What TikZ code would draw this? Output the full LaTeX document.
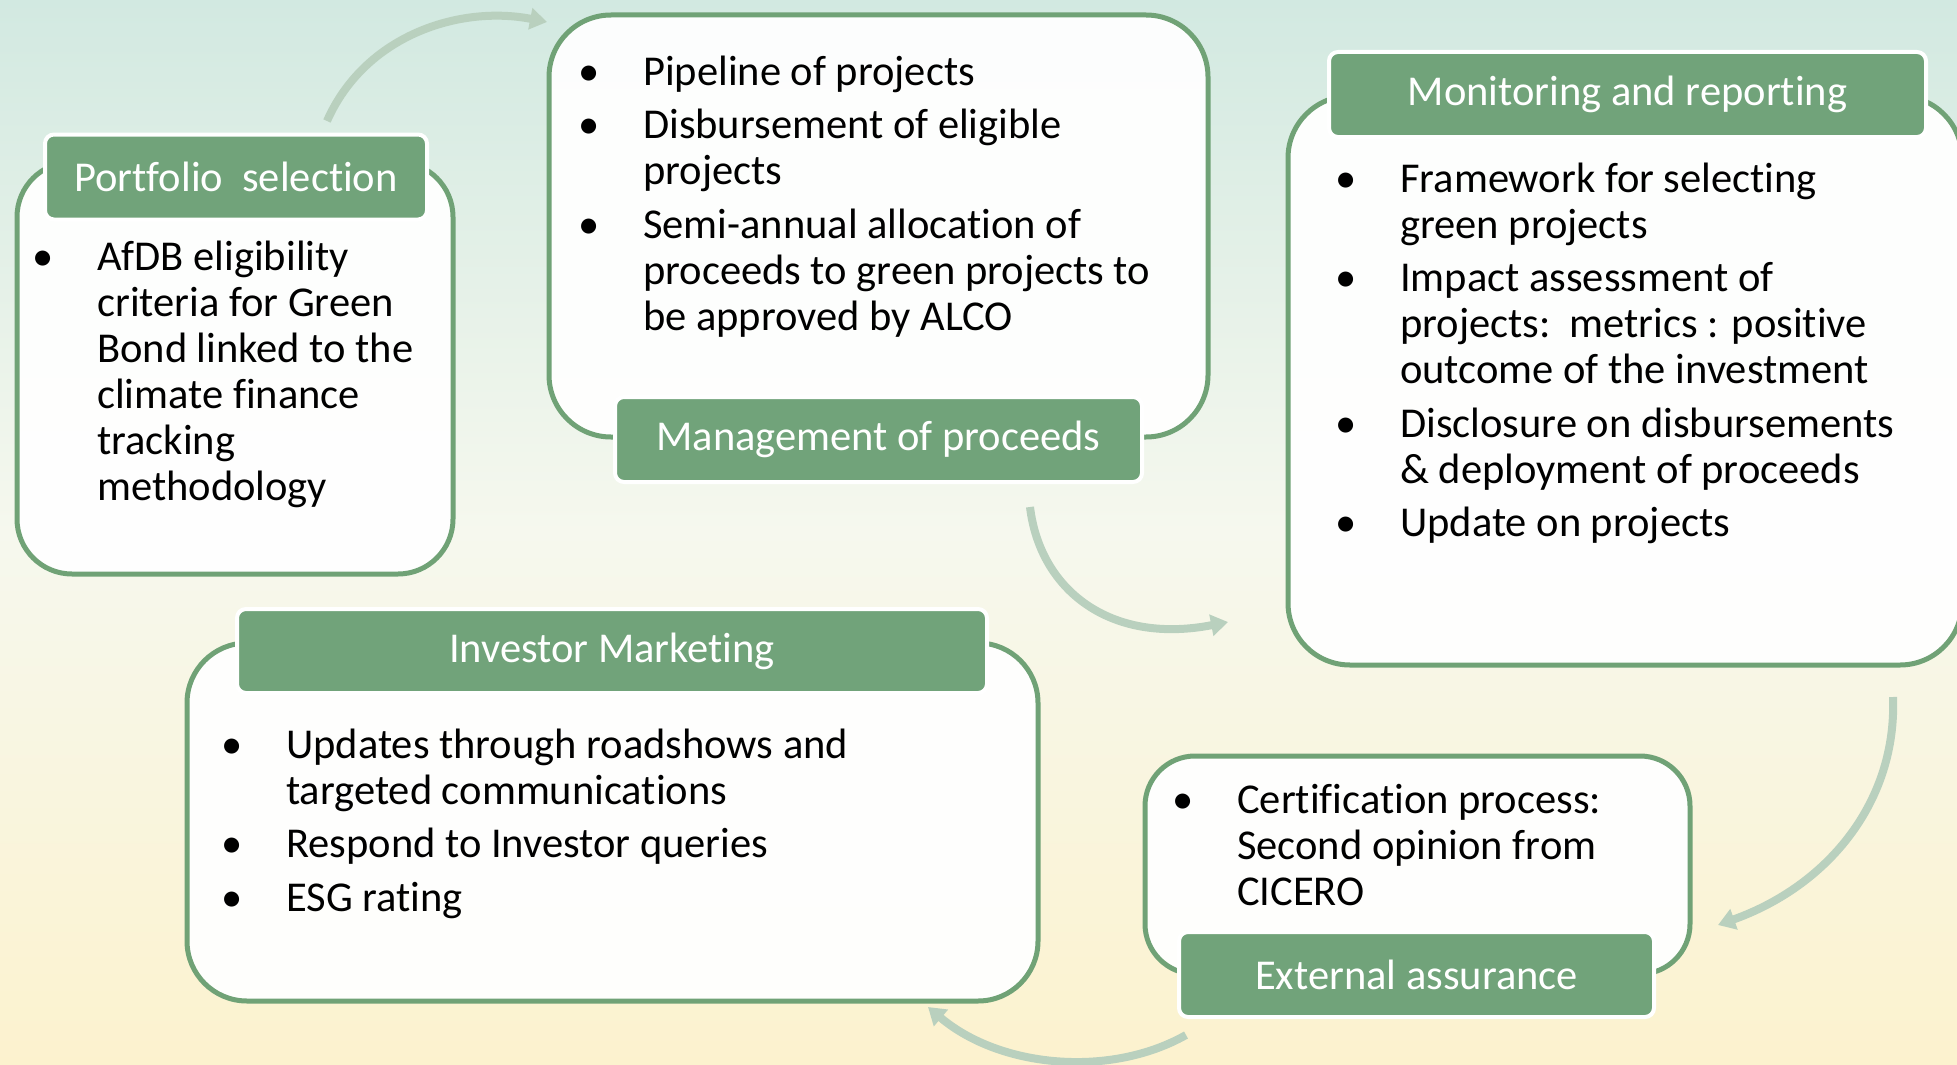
\documentclass[tikz,border=0pt]{standalone}
\usepackage{fontspec}
\setmainfont[Ligatures=CommonOff]{Carlito}
\usetikzlibrary{arrows.meta}
\definecolor{hdr}{RGB}{113,163,122}
\definecolor{edgec}{RGB}{112,162,118}
\definecolor{arrc}{RGB}{185,208,190}
\definecolor{bgtop}{RGB}{210,233,225}
\definecolor{bgmid}{RGB}{246,248,238}
\definecolor{bgbot}{RGB}{252,242,206}
\newlength{\bindent}\setlength{\bindent}{63pt}
\newcommand{\nl}{\hfil\break}
\newcommand{\bitem}[1]{\hangindent=\bindent\hangafter=1\noindent\makebox[\bindent][l]{\hspace{-2pt}\textbullet}#1\par}
\newcommand{\blist}[1]{\parbox[t]{800pt}{\fontsize{42.5}{46}\selectfont\setlength{\parskip}{7.5pt}\setlength{\parfillskip}{0pt plus 1fil}#1}}
\tikzset{
  outbox/.style={draw=edgec, line width=5pt, fill=white, fill opacity=0.95, draw opacity=1, text opacity=1, rounded corners=#1, inner sep=0pt},
  outbox/.default=55pt,
  hdrbox/.style={fill=hdr, draw=white, line width=4pt, rounded corners=9pt, text=white, font=\fontsize{42.5}{46}\selectfont, inner sep=0pt},
  listtext/.style={anchor=base west, inner sep=0pt, text=black},
  flow/.style={draw=arrc, line width=8pt, -{Triangle[width=21pt,length=17pt]}}
}
\begin{document}
\begin{tikzpicture}[x=1pt,y=-1pt]
\useasboundingbox (0,0) rectangle (1957,1065);
\clip (0,0) rectangle (1957,1065);
\shade[top color=bgtop, bottom color=bgbot, middle color=bgmid] (0,0) rectangle (1957,1065);
% arrow end points
\coordinate (a1s) at (327,121); \coordinate (a1e) at (547,22);
\coordinate (a2s) at (1030,507); \coordinate (a2e) at (1228,622);
\coordinate (a3s) at (1893,697); \coordinate (a3e) at (1718,925);
\coordinate (a4s) at (1186,1035); \coordinate (a4e) at (928,1007);
\draw[flow] (a1s) .. controls (365,35) and (460,5) .. (a1e);
\draw[flow] (a2s) .. controls (1040,590) and (1110,645) .. (a2e);
\draw[flow] (a3s) .. controls (1897,800) and (1830,885) .. (a3e);
\draw[flow] (a4s) .. controls (1110,1078) and (1000,1068) .. (a4e);
% outer boxes
\node[outbox, minimum width=436pt, minimum height=412pt] (b1) at (235,368) {};
\node[outbox=62pt, minimum width=659pt, minimum height=422pt] (b2) at (878.5,226) {};
\node[outbox=62pt, minimum width=674pt, minimum height=569pt] (b3) at (1625,380.5) {};
\node[outbox=60pt, minimum width=851pt, minimum height=358pt] (b4) at (612.5,822) {};
\node[outbox=50pt, minimum width=545pt, minimum height=218pt] (b5) at (1417.5,865) {};
% headers
\node[hdrbox, minimum width=382pt, minimum height=85pt] (h1) at (236,177) {Portfolio\ \ selection};
\node[hdrbox, minimum width=527pt, minimum height=85pt] (h2) at (878.5,439.5) {Management of proceeds};
\node[hdrbox, minimum width=597pt, minimum height=85pt] (h3) at (1627.5,94.5) {Monitoring and reporting};
\node[hdrbox, minimum width=750pt, minimum height=84pt] (h4) at (612,651) {Investor Marketing};
\node[hdrbox, minimum width=475pt, minimum height=85pt] (h5) at (1416.5,974.5) {External assurance};
% texts
\node[listtext] (t1) at (34,270) {\blist{%
\bitem{AfDB eligibility\nl criteria for Green\nl Bond linked to the\nl climate finance\nl tracking\nl methodology}}};
\node[listtext] (t2) at (580,85) {\blist{%
\bitem{Pipeline of projects}
\bitem{Disbursement of eligible\nl projects}
\bitem{Semi-annual allocation of\nl proceeds to green projects to\nl be approved by ALCO}}};
\node[listtext] (t3) at (1337,192) {\blist{%
\bitem{Framework for selecting\nl green projects}
\bitem{Impact assessment of\nl projects:\ \ metrics : positive\nl outcome of the investment}
\bitem{Disclosure on disbursements\nl \& deployment of proceeds}
\bitem{Update on projects}}};
\node[listtext] (t4) at (223,758) {\blist{%
\bitem{Updates through roadshows and\nl targeted communications}
\bitem{Respond to Investor queries}
\bitem{ESG rating}}};
\node[listtext] (t5) at (1174,813) {\blist{%
\bitem{Certification process:\nl Second opinion from\nl CICERO}}};
\end{tikzpicture}
\end{document}
